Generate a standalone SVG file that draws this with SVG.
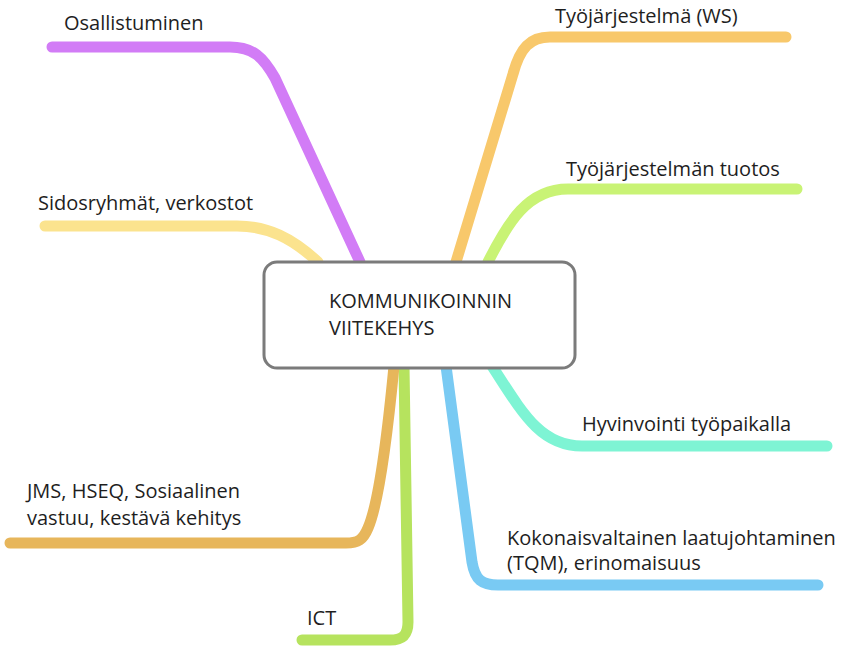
<svg xmlns="http://www.w3.org/2000/svg" width="846" height="646" viewBox="0 0 846 646">
  <style>
    .branch { fill: none; stroke-width: 11; stroke-linecap: round; stroke-linejoin: round; }
    .label { font-family: "Open Sans", "Liberation Sans", sans-serif; font-size: 20px; fill: #1e1e1e; }
    .core { font-family: "Open Sans", "Liberation Sans", sans-serif; font-size: 20px; fill: #222; }
  </style>
  <rect width="846" height="646" fill="#ffffff"/>

  <!-- branches radiating from the central topic -->
  <g id="connectors">
    <path class="branch" stroke="#d27cf6" d="M52,47 L230,47 C253,47 263,57 275,78 L360,262"/>
    <path class="branch" stroke="#fbe38e" d="M45,226 L237,226 C268,226 292,238 318,262"/>
    <path class="branch" stroke="#f8c86b" d="M456,262 L513,74 C520,48 530,37 550,37 L786,37"/>
    <path class="branch" stroke="#c9f375" d="M488,262 C508,222 528,189 568,189 L797,189"/>
    <path class="branch" stroke="#7ef4d4" d="M492,366 C522,412 540,446 582,446 L827,446"/>
    <path class="branch" stroke="#79caf3" d="M446,366 L472,562 C475,580 482,585 498,585 L818,585"/>
    <path class="branch" stroke="#b6e35e" d="M404,366 L408,622 C408,636 402,640 390,640 L302,640"/>
    <path class="branch" stroke="#e7b65b" d="M394,366 C386,450 378,505 368,528 C363,540 358,543 346,543 L10,543"/>
  </g>

  <g id="center">
    <rect x="264" y="262" width="311" height="106" rx="13" ry="13" fill="#ffffff" stroke="#7b7b7b" stroke-width="3"/>
    <text class="core" x="329" y="308">KOMMUNIKOINNIN</text>
    <text class="core" x="329" y="335">VIITEKEHYS</text>
  </g>

  <g id="osallistuminen">
    <text class="label" x="64" y="30">Osallistuminen</text>
  </g>
  <g id="sidosryhmat">
    <text class="label" x="38" y="210">Sidosryhmät, verkostot</text>
  </g>
  <g id="tyojarjestelma">
    <text class="label" x="555" y="23">Työjärjestelmä (WS)</text>
  </g>
  <g id="tyojarjestelman-tuotos">
    <text class="label" x="566" y="176">Työjärjestelmän tuotos</text>
  </g>
  <g id="hyvinvointi">
    <text class="label" x="582" y="431">Hyvinvointi työpaikalla</text>
  </g>
  <g id="tqm">
    <text class="label" x="507" y="545">Kokonaisvaltainen laatujohtaminen</text>
    <text class="label" x="507" y="570">(TQM), erinomaisuus</text>
  </g>
  <g id="jms">
    <text class="label" x="27" y="498">JMS, HSEQ, Sosiaalinen</text>
    <text class="label" x="27" y="525">vastuu, kestävä kehitys</text>
  </g>
  <g id="ict">
    <text class="label" x="307" y="625">ICT</text>
  </g>
</svg>
